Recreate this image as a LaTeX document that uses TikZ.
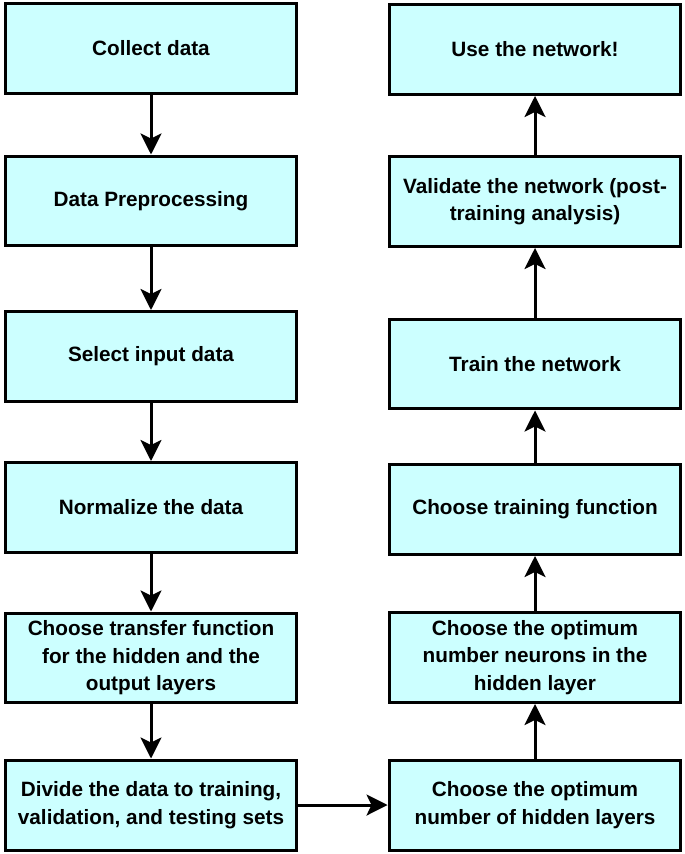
\documentclass[tikz,border=0pt]{standalone}
\usepackage{fontspec}
\setmainfont{Liberation Sans}
\usepackage{tikz}
\usetikzlibrary{arrows.meta}

\definecolor{boxcyan}{HTML}{CCFFFF}

\tikzset{
    stage/.style={rectangle, draw=black, line width=0.06cm, fill=boxcyan,
        minimum width=5.84cm, minimum height=1.80cm, align=center, inner sep=0pt,
        font=\fontsize{11.8}{15.6}\selectfont\bfseries},
    flow/.style={line width=0.06cm, -{Stealth[length=0.42cm, width=0.42cm, inset=0.1cm]}}
}

\begin{document}
\begin{tikzpicture}[x=0.02cm, y=-0.02cm]
        \useasboundingbox (0, 0) rectangle (685, 854);

        % Left column
        \node[stage] (collect) at (151, 48.5) {Collect data};
        \node[stage] (prep) at (151, 201) {Data Preprocessing};
        \node[stage] (select) at (151, 356.5) {Select input data};
        \node[stage] (normalize) at (151, 507.5) {Normalize the data};
        \node[stage] (transfer) at (151, 658) {Choose transfer function\\for the hidden and the\\output layers};
        \node[stage] (divide) at (151, 805) {Divide the data to training,\\validation, and testing sets};

        % Right column
        \node[stage] (layers) at (535, 805) {Choose the optimum\\number of hidden layers};
        \node[stage] (neurons) at (535, 657.5) {Choose the optimum\\number neurons in the\\hidden layer};
        \node[stage] (trainfn) at (535, 509.5) {Choose training function};
        \node[stage] (train) at (535, 364) {Train the network};
        \node[stage] (validate) at (535, 201.5) {Validate the network (post-\\training analysis)};
        \node[stage] (use) at (535, 49.5) {Use the network!};

        \draw[flow] (collect) -- (prep);
        \draw[flow] (prep) -- (select);
        \draw[flow] (select) -- (normalize);
        \draw[flow] (normalize) -- (transfer);
        \draw[flow] (transfer) -- (divide);
        \draw[flow] (divide) -- (layers);
        \draw[flow] (layers) -- (neurons);
        \draw[flow] (neurons) -- (trainfn);
        \draw[flow] (trainfn) -- (train);
        \draw[flow] (train) -- (validate);
        \draw[flow] (validate) -- (use);
    \end{tikzpicture}
\end{document}
